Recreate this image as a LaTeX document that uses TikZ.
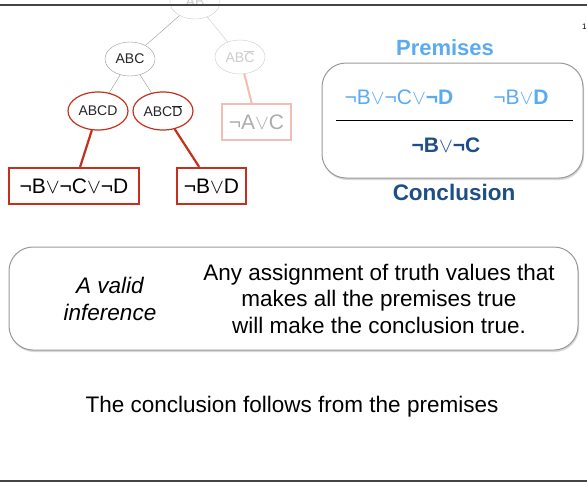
\documentclass[tikz,border=0pt]{standalone}
\usepackage{fontspec}
\setmainfont{Liberation Sans}
\usetikzlibrary{shapes.geometric,shadows,calc}
\newcommand\orv{\ensuremath{\vee}}
\definecolor{redc}{HTML}{C4301C}
\definecolor{pinkc}{HTML}{F2BDB3}
\definecolor{lgray}{HTML}{CCCCCC}
\definecolor{mgray}{HTML}{999999}
\definecolor{lblue}{HTML}{5AABF2}
\definecolor{dblue}{HTML}{1F4E86}
\definecolor{framec}{HTML}{444444}
\begin{document}
\begin{tikzpicture}[x=1pt,y=-1pt,
  ell/.style={ellipse, draw, minimum width=50pt, minimum height=34pt, inner sep=0pt, font=\fontsize{14}{16}\selectfont},
  redell/.style={ell, draw=redc, line width=1.2pt, minimum width=60pt, minimum height=38pt},
  leaf/.style={rectangle, draw=redc, line width=2.2pt, minimum height=36pt, inner sep=0pt, font=\fontsize{21}{24}\selectfont},
  redlink/.style={draw=redc, line width=2.2pt},
  roundbox/.style={draw=mgray, line width=1pt, rounded corners=24pt, fill=white, drop shadow={opacity=0.3, shadow xshift=1pt, shadow yshift=-2pt}},
  big/.style={font=\fontsize{22.5}{27}\selectfont, align=center}
]
\useasboundingbox (0,0) rectangle (587,483);
\clip (0,0) rectangle (587,483);
\fill[white] (0,0) rectangle (587,483);

% tree
\node[ell, draw=lgray, text=lgray] (ab) at (195,2) {AB};
\node[ell, draw=mgray, text=black!85] (abc) at (130,59) {ABC};
\node[ell, draw=lgray, text=lgray] (abcn) at (240,57) {AB$\overline{\mbox{C}}$};
\node[redell, text=black!85] (abcd) at (98,111) {ABCD};
\node[redell, text=black!85] (abcdn) at (163,111) {ABC$\overline{\mbox{D}}$};
\node[leaf, minimum width=69pt, draw=pinkc, text=mgray!80] (na) at (256.5,122) {¬A\orv C};
\node[leaf, minimum width=130pt] (l1) at (74,186) {¬B\orv¬C\orv¬D};
\node[leaf, minimum width=69pt] (l2) at (211.5,186) {¬B\orv D};

\draw[mgray] (ab) -- (abc);
\draw[lgray] (ab) -- (abcn);
\draw[mgray] (abc) -- (abcd);
\draw[mgray] (abc) -- (abcdn);
\draw[draw=pinkc, line width=2pt] (abcn) -- (na);
\draw[redlink] (abcd) -- (l1);
\draw[redlink] (abcdn) -- (l2);

% frame lines
\coordinate (tl) at (0,5); \coordinate (tr) at (587,5);
\coordinate (bl) at (0,481); \coordinate (br) at (587,481);
\draw[framec, line width=1.3pt] (tl) -- (tr);
\draw[framec, line width=1.3pt] (bl) -- (br);
\node[anchor=west, inner sep=0pt, font=\fontsize{8}{9}\selectfont] (pg) at (582,27) {1};

% premises box
\node[roundbox, minimum width=261pt, minimum height=115pt] (pbox) at (452.5,120.5) {};
\node[text=lblue, font=\fontsize{22}{26}\bfseries\selectfont] (prem) at (445,48) {Premises};
\node[text=lblue, font=\fontsize{21}{24}\selectfont] (p1) at (399,97) {¬B\orv¬C\orv\textbf{¬D}};
\node[text=lblue, font=\fontsize{21}{24}\selectfont] (p2) at (521,97) {¬B\orv\textbf{D}};
\coordinate (hl) at (336,120); \coordinate (hr) at (573,120);
\draw[black, line width=0.8pt] (hl) -- (hr);
\node[text=dblue, font=\fontsize{21}{24}\selectfont] (conc) at (446,145) {\textbf{¬B}\orv\textbf{¬C}};
\node[text=dblue, font=\fontsize{22.5}{26}\bfseries\selectfont] (conl) at (454,192) {Conclusion};

% valid inference box
\node[roundbox, minimum width=569pt, minimum height=103pt] (vbox) at (293.5,298.5) {};
\node[big, font=\fontsize{22.5}{27}\itshape\selectfont] (valid) at (110,298.5) {A valid\\inference};
\node[big, font=\fontsize{22.5}{26.5}\selectfont] (any) at (379,298.5) {Any assignment of truth values that\\makes all the premises true\\will make the conclusion true.};

\node[big] (follow) at (292,407) {The conclusion follows from the premises};
\end{tikzpicture}
\end{document}
